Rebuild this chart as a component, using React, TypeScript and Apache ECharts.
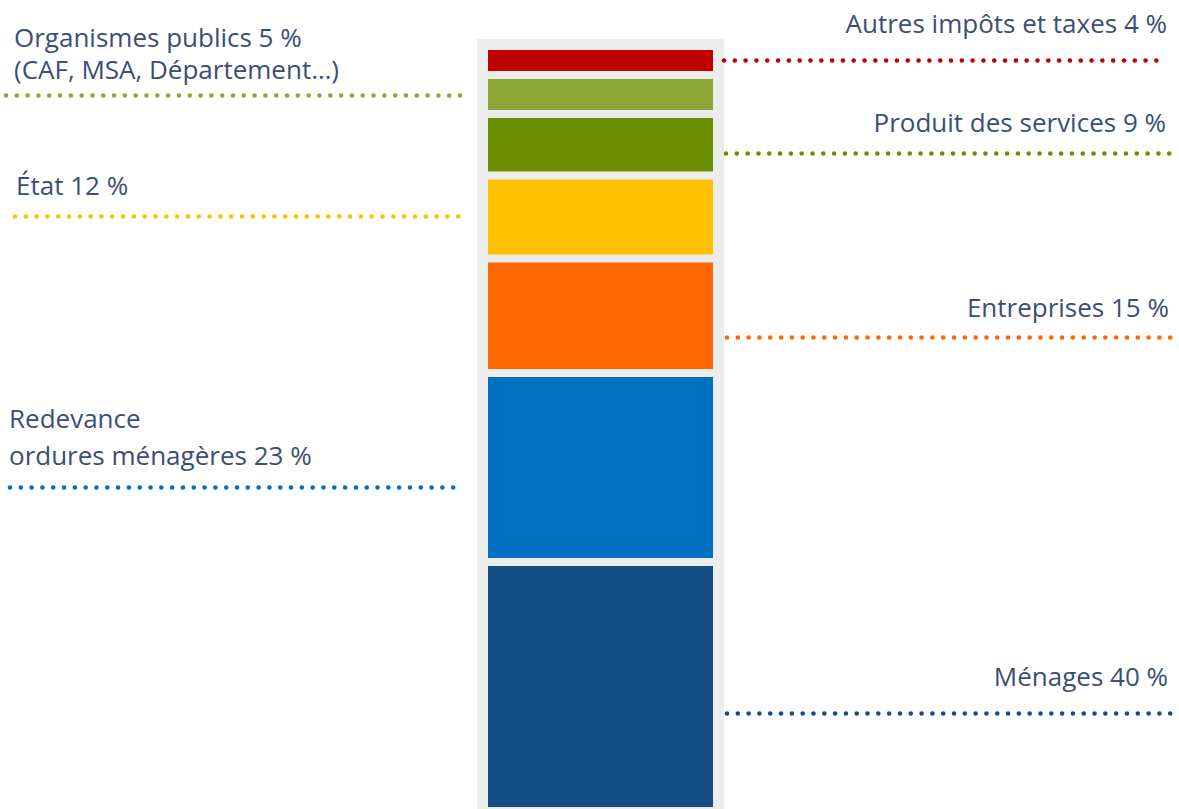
import React, { useEffect, useRef } from 'react';
import * as echarts from 'echarts';

// Data (top of the column to the bottom)
const categories = [
  'Autres impôts et taxes',
  'Organismes publics',
  'Produit des services',
  'État',
  'Entreprises',
  'Redevance\nordures ménagères',
  'Ménages',
];
const notes = ['', '(CAF, MSA, Département…)', '', '', '', '', ''];
const shares = [4, 5, 9, 12, 15, 23, 40];
// visual heights of the segments as drawn (gap included)
const barSizes = [3.77, 5.06, 7.99, 10.78, 14.87, 24.55, 40];
// level of each leader line on the same scale
const leaderLevels = [1.82, 6.45, 13.93, 22.08, 37.88, 57.31, 86.71];
const sides = ['right', 'left', 'right', 'left', 'right', 'left', 'right'];

// Styles
const COLORS = ['#c00000', '#8da636', '#6b8e00', '#ffc000', '#ff6600', '#0070c0', '#134f86'];
const GRAY = '#ebecec';
const TEXT = '#3a4f73';
const LAYOUT = [
  { x0: 724, x1: 1162, dx: -5, dy: 21.8, lh: 30 },
  { x0: 6, x1: 462, dx: 8, dy: 10.8, lh: 32 },
  { x0: 726, x1: 1175, dx: 9, dy: 16.4, lh: 30 },
  { x0: 15, x1: 463, dx: 1, dy: 15.8, lh: 30 },
  { x0: 727, x1: 1176, dx: 7, dy: 15.5, lh: 30 },
  { x0: 10, x1: 459, dx: -1, dy: 13.9, lh: 37 },
  { x0: 727, x1: 1176, dx: 8, dy: 22.1, lh: 30 },
];

function labelText(i: number): string {
  const main = `${categories[i]} ${shares[i]} %`;
  return notes[i] ? `${main}\n${notes[i]}` : main;
}

export default function App() {
  const ref = useRef<HTMLDivElement>(null);

  useEffect(() => {
    if (!ref.current) return;
    const chart = echarts.init(ref.current, null, { renderer: 'svg' });

    const series = categories.map((name, i) => {
      const L = LAYOUT[i];
      const left = sides[i] === 'left';
      return {
        type: 'bar',
        name,
        stack: 'total',
        barWidth: 233,
        data: [barSizes[i]],
        itemStyle: { color: COLORS[i], borderColor: GRAY, borderWidth: 4 },
        emphasis: { disabled: true },
        markLine: {
          silent: true,
          symbol: ['none', 'none'],
          lineStyle: {
            color: COLORS[i],
            width: 4.6,
            type: [0.01, 10.8],
            cap: 'round',
          },
          label: {
            show: true,
            position: left ? 'insideStartTop' : 'insideEndTop',
            formatter: () => labelText(i),
            color: TEXT,
            fontSize: 26,
            fontFamily: '"Open Sans", sans-serif',
            lineHeight: L.lh,
            distance: [L.dx, L.dy],
          },
          emphasis: { disabled: true },
          data: [
            [
              { yAxis: leaderLevels[i], x: L.x0 },
              { yAxis: leaderLevels[i], x: L.x1 },
            ],
          ],
        },
      };
    });

    chart.setOption({
      animation: false,
      backgroundColor: '#ffffff',
      tooltip: { show: false },
      grid: {
        left: 477,
        top: 39,
        width: 247,
        bottom: 0,
        show: true,
        backgroundColor: GRAY,
        borderWidth: 0,
      },
      xAxis: { type: 'category', data: [''], show: false },
      yAxis: { type: 'value', inverse: true, min: -0.9, max: 99.1, show: false },
      series,
    });

    return () => chart.dispose();
  }, []);

  return (
    <div
      ref={ref}
      style={{ position: 'absolute', left: 0, top: 0, width: 1179, height: 809 }}
    />
  );
}
